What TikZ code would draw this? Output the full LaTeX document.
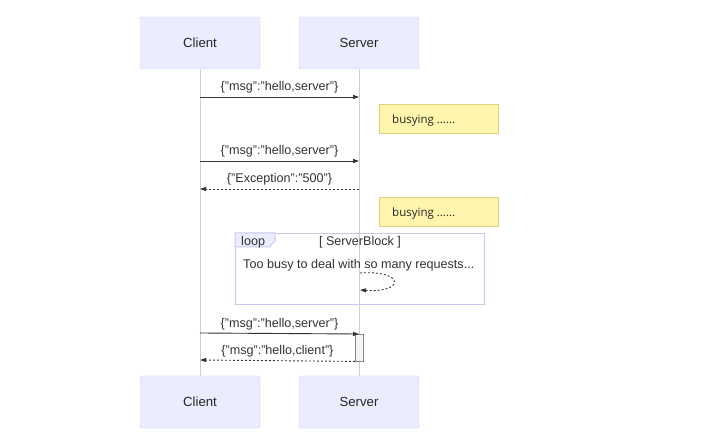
\documentclass[tikz,border=0pt]{standalone}
\usepackage{fontspec}
\setmainfont{Liberation Sans}
\newfontfamily\notefont{Open Sans}
\usetikzlibrary{arrows.meta}
\definecolor{actfill}{HTML}{ECECFF}
\definecolor{actdraw}{HTML}{CCCCFF}
\definecolor{notefill}{HTML}{FFF5AD}
\definecolor{notedraw}{HTML}{DDD27A}
\definecolor{lifeline}{HTML}{CFCFCF}
\definecolor{msgcol}{HTML}{333333}
\definecolor{loopdraw}{HTML}{C8C8F0}
\definecolor{activfill}{HTML}{F4F4F4}
\begin{document}
\begin{tikzpicture}[x=1pt,y=-1pt,
  actor/.style={draw=actdraw,fill=actfill,rounded corners=2pt,minimum width=120pt,minimum height=52pt,inner sep=0pt,font=\fontsize{13.2}{15}\selectfont,text=black!85},
  note/.style={draw=notedraw,fill=notefill,minimum width=119pt,minimum height=29pt,inner sep=0pt,font=\notefont\fontsize{11.5}{13}\selectfont,text=black!85},
  msg/.style={draw=msgcol,line width=0.9pt,-{Triangle[length=6pt,width=4pt]}},
  ret/.style={msg,dash pattern=on 2pt off 2pt},
  lbl/.style={font=\fontsize{12.6}{14}\selectfont,text=black!80,inner sep=0pt},
  life/.style={draw=lifeline,line width=0.6pt}]
\useasboundingbox (0,0) rectangle (720,435);
\fill[white] (0,0) rectangle (720,435);
% lifelines
\node[actor] (c1) at (200,43) {Client};
\node[actor] (s1) at (359,43) {Server};
\node[actor] (c2) at (200,402) {Client};
\node[actor] (s2) at (359,402) {Server};
\draw[life] (c1.south) -- (c2.north);
\draw[life] (s1.south) -- (s2.north);
% message 1
\coordinate (a1) at (200,97); \coordinate (b1) at (359,97);
\draw[msg] (a1) -- (b1) node[lbl,midway,above=3pt] {\{"msg":"hello,server"\}};
\node[note,anchor=north west] (n1) at (379,104) {};
\node[note,draw=none,fill=none,anchor=west,minimum width=0pt,minimum height=0pt] (n1t) at ([xshift=13pt,yshift=-1.5pt]n1.west) {busying ......};
% message 2
\coordinate (a2) at (200,161); \coordinate (b2) at (359,161);
\draw[msg] (a2) -- (b2) node[lbl,midway,above=3pt] {\{"msg":"hello,server"\}};
\coordinate (a3) at (359,189); \coordinate (b3) at (200,189);
\draw[ret] (a3) -- (b3) node[lbl,midway,above=3pt] {\{"Exception":"500"\}};
\node[note,anchor=north west] (n2) at (379,197) {};
\node[note,draw=none,fill=none,anchor=west,minimum width=0pt,minimum height=0pt] (n2t) at ([xshift=13pt,yshift=-1.5pt]n2.west) {busying ......};
% loop
\node[draw=loopdraw,line width=1pt,minimum width=249pt,minimum height=71pt,anchor=north west,inner sep=0pt] (loopbox) at (235,233) {};
\draw[draw=loopdraw,line width=1pt,fill=actfill] (loopbox.north west) -- ++(40,0) -- ++(0,8) -- ++(-6,6) -- ++(-34,0) -- cycle;
\node[lbl,anchor=west] (looplbl) at (241,242) {loop};
\node[lbl] (loopcond) at (360,242) {[ ServerBlock ]};
\node[lbl,anchor=west] (looptxt) at (243,265) {Too busy to deal with so many requests...};
\coordinate (sl1) at (360,273); \coordinate (sl2) at (360,290);
\draw[ret] (sl1) .. controls (405,270) and (405,293) .. (sl2);
% message 3 with activation
\node[draw=msgcol!60,fill=activfill,minimum width=8pt,minimum height=27pt,inner sep=0pt,anchor=north] (act) at (359,334) {};
\coordinate (a4) at (200,333);
\draw[msg] (a4) -- (act.north) node[lbl,midway,above=3pt] {\{"msg":"hello,server"\}};
\coordinate (b5) at (200,360);
\draw[ret] (act.south west) -- (b5) node[lbl,midway,above=3pt] {\{"msg":"hello,client"\}};
\end{tikzpicture}
\end{document}
